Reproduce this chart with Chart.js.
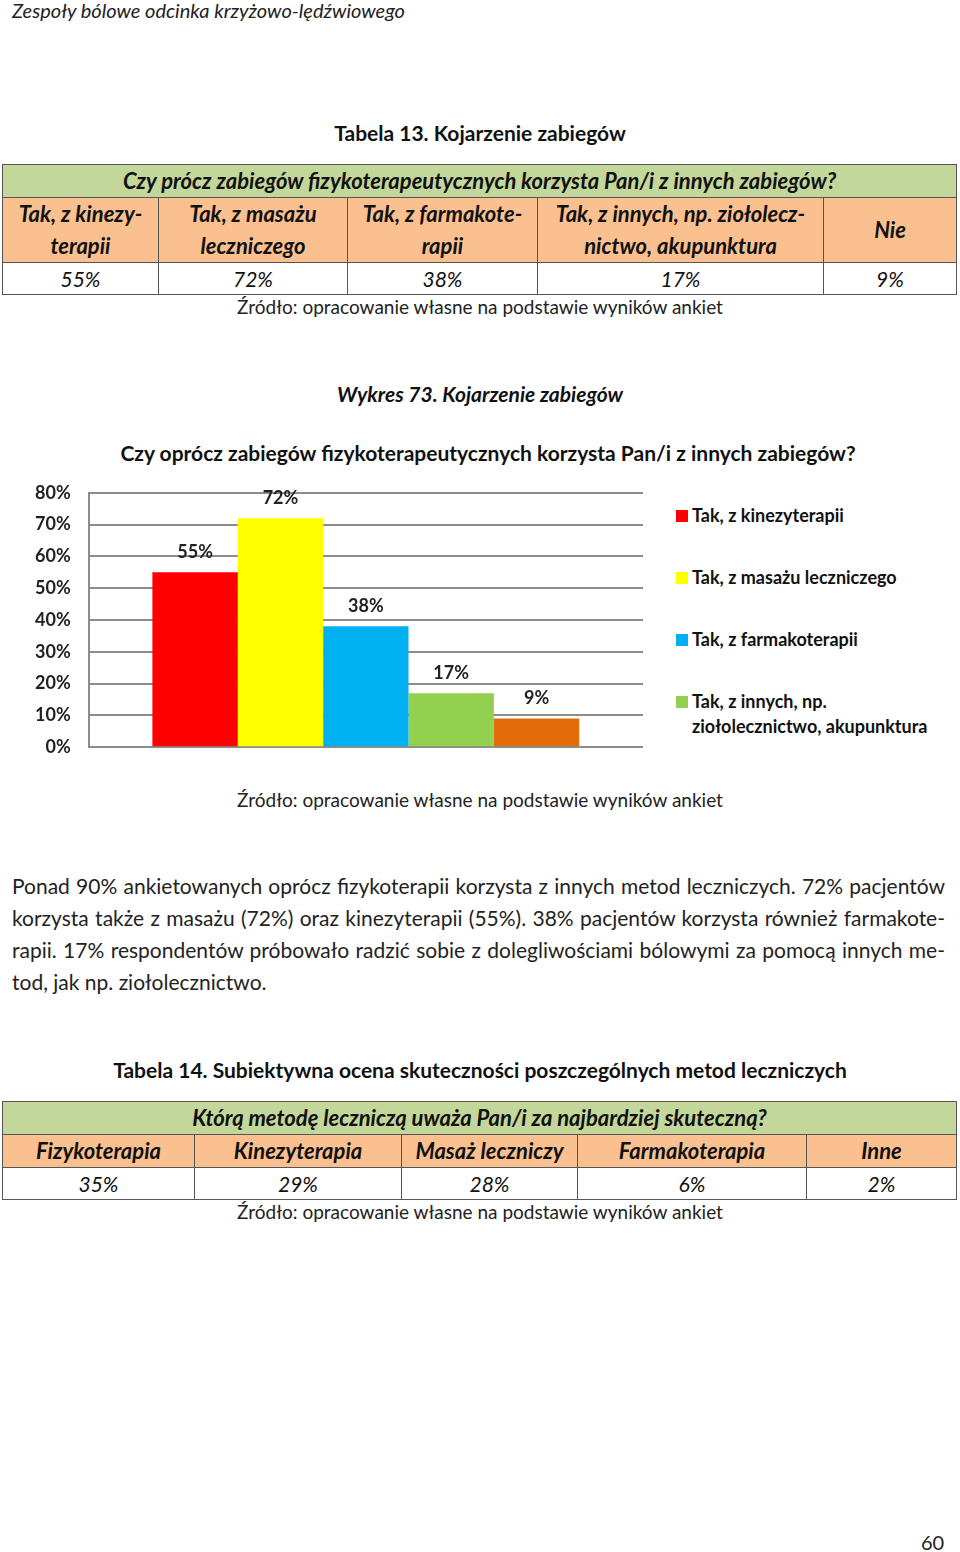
<!DOCTYPE html>
<html lang="pl">
<head>
<meta charset="utf-8">
<title>Wykres 73. Kojarzenie zabiegów</title>
<script src="https://cdn.jsdelivr.net/npm/chart.js@4.4.1/dist/chart.umd.min.js"></script>
<style>
    html, body { margin: 0; padding: 0; background: #fff; }
    body { width: 960px; height: 1552px; position: relative; font-family: Lato, "Open Sans", sans-serif; color: #111; }
    .abs { position: absolute; }
    .center { left: 0; width: 960px; text-align: center; }
    .running { left: 12px; top: -2px; font-size: 20px; font-style: italic; color: #222; }
    .caption { font-size: 21px; font-weight: bold; }
    .source { font-size: 19px; color: #222; }
    table { position: absolute; left: 2px; width: 954px; border-collapse: collapse; table-layout: fixed; }
    td { border: 1.5px solid #555; text-align: center; font-size: 21px; font-style: italic; padding: 0; line-height: 32px; }
    .q td { background: #c4d79b; font-weight: bold; font-size: 22px; }
    .h td { background: #fac090; font-weight: bold; font-size: 22px; }
    .v td { background: #fff; line-height: 31px; }
    #chartBox { position: absolute; left: 0; top: 464px; width: 660px; height: 312px; }
    #legend { position: absolute; left: 676px; top: 503px; font-size: 18px; font-weight: bold; }
    .item { display: flex; align-items: flex-start; height: 62px; line-height: 25px; }
    .box { width: 12px; height: 12px; margin: 7px 4px 0 0; flex: none; }
    .para { left: 12px; width: 933px; font-size: 21px; color: #222; }
    .para div { text-align: justify; text-align-last: justify; height: 32px; line-height: 32px; }
    .para div.last { text-align-last: left; }
</style>
</head>
<body>

<div class="abs running">Zespoły bólowe odcinka krzyżowo-lędźwiowego</div>

<div class="abs center caption" style="top:120px;">Tabela 13. Kojarzenie zabiegów</div>
<table style="top:164px;">
    <colgroup><col style="width:156px"><col style="width:189px"><col style="width:190px"><col style="width:286px"><col style="width:133px"></colgroup>
    <tr class="q"><td colspan="5">Czy prócz zabiegów fizykoterapeutycznych korzysta Pan/i z innych zabiegów?</td></tr>
    <tr class="h">
        <td>Tak, z kinezy-<br>terapii</td>
        <td>Tak, z masażu<br>leczniczego</td>
        <td>Tak, z farmakote-<br>rapii</td>
        <td>Tak, z innych, np. ziołolecz-<br>nictwo, akupunktura</td>
        <td>Nie</td>
    </tr>
    <tr class="v"><td>55%</td><td>72%</td><td>38%</td><td>17%</td><td>9%</td></tr>
</table>
<div class="abs center source" style="top:295px;">Źródło: opracowanie własne na podstawie wyników ankiet</div>

<div class="abs center caption" style="top:381px; font-style:italic;">Wykres 73. Kojarzenie zabiegów</div>
<div class="abs caption" style="top:440px; left:16px; width:944px; text-align:center;">Czy oprócz zabiegów fizykoterapeutycznych korzysta Pan/i z innych zabiegów?</div>

<div id="chartBox"><canvas id="chart"></canvas></div>
<div id="legend"></div>

<div class="abs center source" style="top:788px;">Źródło: opracowanie własne na podstawie wyników ankiet</div>

<div class="abs para" style="top:870px;">
    <div>Ponad 90% ankietowanych oprócz fizykoterapii korzysta z innych metod leczniczych. 72% pacjentów</div>
    <div>korzysta także z masażu (72%) oraz kinezyterapii (55%). 38% pacjentów korzysta również farmakote-</div>
    <div>rapii. 17% respondentów próbowało radzić sobie z dolegliwościami bólowymi za pomocą innych me-</div>
    <div class="last">tod, jak np. ziołolecznictwo.</div>
</div>

<div class="abs center caption" style="top:1057px;">Tabela 14. Subiektywna ocena skuteczności poszczególnych metod leczniczych</div>
<table style="top:1101px;">
    <colgroup><col style="width:192px"><col style="width:207px"><col style="width:176px"><col style="width:229px"><col style="width:150px"></colgroup>
    <tr class="q"><td colspan="5">Którą metodę leczniczą uważa Pan/i za najbardziej skuteczną?</td></tr>
    <tr class="h"><td>Fizykoterapia</td><td>Kinezyterapia</td><td>Masaż leczniczy</td><td>Farmakoterapia</td><td>Inne</td></tr>
    <tr class="v"><td>35%</td><td>29%</td><td>28%</td><td>6%</td><td>2%</td></tr>
</table>
<div class="abs center source" style="top:1200px;">Źródło: opracowanie własne na podstawie wyników ankiet</div>

<div class="abs" style="left:921px; top:1530px; font-size:20px; color:#222;">60</div>

<script>
// Answers and their shares (%)
const answers = [
    'Tak, z kinezyterapii',
    'Tak, z masażu leczniczego',
    'Tak, z farmakoterapii',
    ['Tak, z innych, np.', 'ziołolecznictwo, akupunktura'],
    'Nie'
];
const shares = [55, 72, 38, 17, 9];
const barColors = ['#ff0000', '#ffff00', '#00b0f0', '#92d050', '#e36c09'];
const yTicks = [0, 10, 20, 30, 40, 50, 60, 70, 80];

// The original legend only lists the first four answers
const hiddenInLegend = ['Nie'];

const labelFont = { family: 'Lato, "Open Sans", sans-serif', size: 18, weight: 'bold' };

// Draws the value above every bar
const valueLabels = {
    id: 'valueLabels',
    afterDatasetsDraw(chart) {
        const ctx = chart.ctx;
        ctx.save();
        ctx.font = 'bold 18px Lato, "Open Sans", sans-serif';
        ctx.fillStyle = '#222';
        ctx.textAlign = 'center';
        ctx.textBaseline = 'middle';
        chart.data.datasets.forEach((ds, i) => {
            chart.getDatasetMeta(i).data.forEach((bar, j) => {
                ctx.fillText(ds.data[j] + '%', bar.x, bar.y - 20);
            });
        });
        ctx.restore();
    }
};

// HTML legend built from the chart's own legend items
const htmlLegend = {
    id: 'htmlLegend',
    afterUpdate(chart) {
        const box = document.getElementById('legend');
        box.innerHTML = '';
        const items = chart.options.plugins.legend.labels.generateLabels(chart);
        items.forEach(item => {
            if (hiddenInLegend.includes(item.text)) return;
            const row = document.createElement('div');
            row.className = 'item';
            const sw = document.createElement('span');
            sw.className = 'box';
            sw.style.background = item.fillStyle;
            const txt = document.createElement('span');
            const lines = Array.isArray(item.text) ? item.text : [item.text];
            lines.forEach((line, k) => {
                if (k > 0) txt.appendChild(document.createElement('br'));
                txt.appendChild(document.createTextNode(line));
            });
            row.appendChild(sw);
            row.appendChild(txt);
            box.appendChild(row);
        });
    }
};

const ctx = document.getElementById('chart').getContext('2d');
new Chart(ctx, {
    type: 'bar',
    data: {
        labels: [''],
        datasets: answers.map((name, i) => ({
            label: name,
            data: [shares[i]],
            backgroundColor: barColors[i],
            borderWidth: 0,
            categoryPercentage: 0.77,
            barPercentage: 1
        }))
    },
    options: {
        responsive: true,
        maintainAspectRatio: false,
        animation: false,
        layout: { padding: { left: 17, right: 17, top: 16, bottom: 16 } },
        plugins: {
            legend: { display: false },
            tooltip: { enabled: false },
            title: { display: false }
        },
        scales: {
            x: { display: false },
            y: {
                min: 0,
                max: 80,
                afterBuildTicks(axis) {
                    axis.ticks = yTicks.map(v => ({ value: v }));
                },
                ticks: {
                    padding: 18,
                    color: '#222',
                    font: labelFont,
                    callback: v => v + '%'
                },
                grid: { color: '#8c8c8c', lineWidth: 2, drawTicks: false },
                border: { display: true, color: '#8c8c8c', width: 2 }
            }
        }
    },
    plugins: [valueLabels, htmlLegend]
});
</script>
</body>
</html>
